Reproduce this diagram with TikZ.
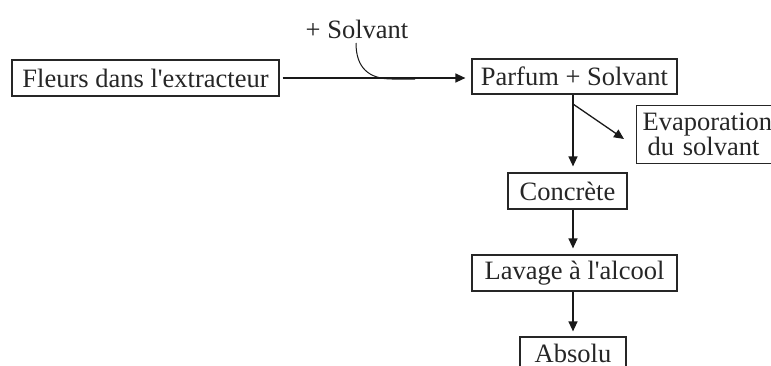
\documentclass[tikz,border=0pt]{standalone}
\usepackage{fontspec}
\setmainfont{Liberation Serif}
\usetikzlibrary{arrows.meta}
\begin{document}
\begin{tikzpicture}[x=1pt,y=-1pt,
  font=\fontsize{26.5}{24}\selectfont,
  every node/.style={text=black!85},
  box/.style={draw=black!85, line width=1.2pt, inner sep=0pt, minimum height=36pt},
  arr/.style={draw=black!90, line width=1.3pt, -{Triangle[length=10pt,width=9pt]}}]
\useasboundingbox (0,0) rectangle (771,365);
\clip (0,0) rectangle (771,365);
\coordinate (axis) at (573,0);
\node[box, minimum width=267pt] (fleurs) at (145.5,78) {Fleurs dans l\textquotesingle extracteur};
\node[box, minimum width=205pt, minimum height=35pt] (parfum) at (574.5,76.5) {Parfum + Solvant};
\node[box, anchor=north west, minimum height=58pt, inner xsep=6pt, text width=146pt, align=left] (evap) at (636,105) {Evaporation\\\hspace*{5pt}du solvant};
\node[box, minimum width=119pt] (concrete) at (567.5,191) {Concrète};
\node[box, minimum width=205pt] (lavage) at (574.5,273) {Lavage à l\textquotesingle alcool};
\node[box, minimum width=106pt, minimum height=32pt] (absolu) at (573,353) {Absolu};
\node (solv) at (357,29) {+ Solvant};
% connectors
\draw[arr, shorten <=3pt, shorten >=6pt] (fleurs.east) -- (fleurs.east -| parfum.west);
\coordinate (cstart) at (356,43);
\coordinate (cend) at (415,79);
\draw[draw=black!90, line width=1pt] (cstart) .. controls (356,68) and (369,79) .. (392,79) -- (cend);
\draw[arr, shorten >=6pt] (parfum.south -| axis) -- (concrete.north -| axis);
\coordinate (split) at (573,104);
\coordinate (evtip) at (624,139);
\draw[arr] (split) -- (evtip);
\draw[arr, shorten >=6pt] (concrete.south -| axis) -- (lavage.north -| axis);
\draw[arr, shorten >=5pt] (lavage.south -| axis) -- (absolu.north -| axis);
\end{tikzpicture}
\end{document}
